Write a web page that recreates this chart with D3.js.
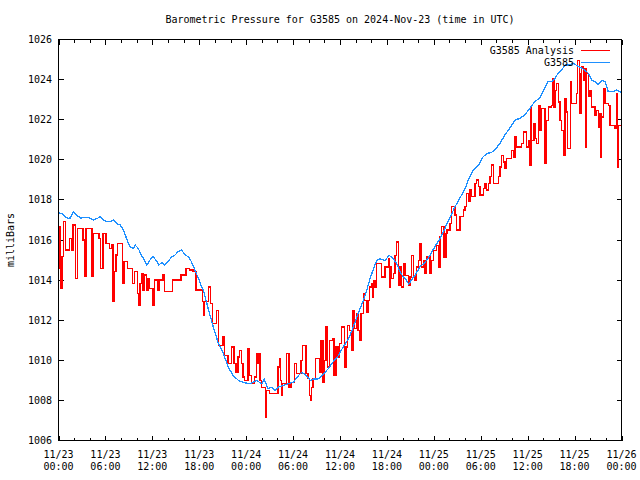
<!DOCTYPE html>
<html>
<head>
<meta charset="utf-8">
<script src="https://cdn.jsdelivr.net/npm/d3@7"></script>
<style>
  html, body { margin: 0; padding: 0; background: #fff; }
  svg { display: block; }
  text { font-family: "DejaVu Sans Mono", "Liberation Mono", monospace; font-size: 10px; fill: #000; }
</style>
</head>
<body>
<svg id="chart" width="640" height="480"></svg>
<script>
// ---- data (hours after 2024-11-23 00:00 UTC, millibars) ----
const titleText = "Barometric Pressure for G3585 on 2024-Nov-23 (time in UTC)";
const yLabel = "milliBars";
const seriesNames = ["G3585 Analysis", "G3585"];

const blueHours = [0,0.5,0.8,1.2,1.5,1.9,2.3,2.8,3.5,4.0,4.5,5.0,5.3,5.7,6.2,6.6,7.1,7.4,7.9,8.3,8.7,9.1,9.6,9.8,10.2,10.6,11.1,11.3,11.7,12.1,12.6,12.8,13.2,13.6,14.0,14.5,14.9,15.3,15.75,16.2,16.6,17.0,17.45,17.9,18.3,18.6,19.2,19.8,20.4,21.1,21.7,22.35,23.0,23.6,24.5,25.3,26.0,26.3,26.8,27.2,27.7,28.1,28.75,29.4,30.0,30.7,31.1,31.7,32.2,32.6,33.2,33.9,34.5,35.1,35.8,36.4,37.1,37.7,38.3,39.0,39.5,39.9,40.3,40.7,41.1,41.75,42.3,42.8,43.25,43.7,44.1,44.5,44.8,45.1,45.6,46.2,46.9,47.5,48.1,48.8,49.4,50.1,50.7,51.3,52.0,52.4,53.0,53.7,54.3,54.8,55.3,55.8,56.5,57.1,57.7,58.4,59.0,59.6,60.3,60.9,61.5,62.2,62.6,63.1,63.5,63.9,64.35,64.8,65.4,65.8,66.5,66.9,67.3,67.75,68.2,68.6,69.0,69.5,69.9,70.3,70.9,71.4,72.0];
const blueValues = [1017.37,1017.3,1017.17,1017.08,1017.1,1017.42,1017.25,1017.1,1017.12,1017.1,1017.0,1017.08,1017.17,1017.0,1016.92,1016.92,1017.0,1016.83,1016.75,1016.5,1016.08,1015.67,1015.58,1015.75,1015.58,1015.25,1014.92,1014.75,1015.0,1015.17,1014.92,1014.75,1014.87,1014.75,1014.92,1015.17,1015.25,1015.42,1015.5,1015.25,1015.17,1014.92,1014.5,1014.08,1013.67,1013.4,1012.49,1011.66,1010.9,1010.33,1009.66,1009.24,1009.0,1008.9,1008.83,1009.0,1008.83,1009.05,1008.58,1008.66,1008.5,1008.66,1008.75,1008.83,1008.9,1009.24,1009.4,1009.24,1009.0,1009.07,1009.07,1009.33,1009.58,1009.91,1010.24,1010.66,1011.08,1011.66,1012.32,1012.99,1013.6,1014.15,1014.57,1014.98,1015.07,1014.98,1015.23,1015.07,1014.82,1014.4,1014.15,1013.99,1013.79,1013.99,1014.24,1014.65,1014.9,1015.23,1015.65,1016.07,1016.57,1017.15,1017.65,1018.07,1018.57,1018.98,1019.48,1019.73,1020.15,1020.32,1020.35,1020.48,1020.85,1021.24,1021.57,1021.98,1022.07,1022.23,1022.57,1022.9,1023.07,1023.57,1023.9,1023.9,1024.07,1024.32,1024.48,1024.73,1024.73,1024.82,1024.65,1024.57,1024.48,1024.32,1023.98,1023.9,1023.73,1023.98,1023.9,1023.4,1023.4,1023.48,1023.35];

const redHours = [0.0,0.19,0.28,0.45,0.66,0.92,1.43,1.68,1.85,2.2,2.45,3.13,3.35,3.52,4.28,4.45,5.18,5.35,5.69,6.07,6.5,6.75,6.97,7.1,7.35,7.56,8.2,8.37,8.8,9.48,9.7,10.12,10.29,10.42,10.6,10.8,11.0,11.23,11.44,11.66,12.08,12.25,12.72,12.94,13.36,13.58,14.6,15.67,16.3,16.77,17.2,17.58,18.43,18.56,18.69,19.16,19.4,19.71,20.23,20.44,21.04,21.25,21.68,22.1,22.44,22.7,22.95,23.17,23.38,23.59,23.8,24.23,24.4,24.66,25.08,25.3,25.5,25.7,25.77,25.94,26.5,26.58,26.96,28.07,28.24,28.4,28.5,28.66,29.13,29.48,29.73,30.2,30.41,31.0,31.22,31.65,31.9,32.12,32.25,32.33,32.55,32.9,33.36,33.57,33.82,34.0,34.2,34.42,34.63,35.06,35.23,35.48,35.74,35.96,36.17,36.55,36.77,36.98,37.24,37.45,37.66,37.87,38.09,38.3,38.51,38.68,39.03,39.15,39.37,39.58,39.8,40.0,40.18,40.26,40.47,40.69,41.33,41.75,42.18,42.3,42.47,42.6,42.82,43.03,43.24,43.46,43.67,43.88,44.1,44.31,44.73,44.95,45.16,45.37,45.59,45.8,46.01,46.23,46.44,46.65,46.87,47.08,47.51,47.72,47.93,48.36,48.57,48.78,49.0,49.3,49.55,49.7,50.06,50.27,50.7,50.9,51.34,51.76,51.98,52.19,52.4,52.62,52.83,53.26,53.47,53.68,53.9,54.32,54.54,54.75,54.96,55.18,55.39,55.6,56.24,56.45,56.67,56.88,57.1,57.31,57.95,58.16,58.37,58.59,59.23,59.44,59.87,60.08,60.29,60.42,60.5,60.8,60.93,61.15,61.36,61.57,61.78,62.21,62.43,62.64,63.07,63.2,63.37,63.49,63.71,63.92,64.13,64.35,64.56,64.77,64.98,65.11,65.5,65.62,66.26,66.35,66.6,66.69,66.9,67.11,67.33,67.45,67.54,67.75,67.96,68.18,68.6,68.82,69.03,69.24,69.37,69.45,69.67,69.88,70.3,70.52,71.16,71.37,71.46,71.58,72.0];
const redValues = [1016.67,1014.58,1013.58,1015.17,1016.92,1015.5,1016.08,1015.5,1016.75,1014.08,1016.58,1016.0,1014.17,1016.58,1014.17,1016.33,1016.08,1014.58,1016.33,1015.83,1015.58,1015.75,1012.92,1014.42,1015.25,1015.83,1013.83,1014.92,1014.58,1013.83,1014.42,1013.33,1012.75,1013.83,1014.33,1013.5,1014.25,1013.5,1014.08,1013.58,1012.75,1014.0,1013.5,1014.0,1014.25,1013.42,1014.0,1014.25,1014.58,1014.5,1014.42,1013.5,1012.95,1012.25,1012.92,1013.66,1012.85,1011.83,1012.49,1010.74,1011.16,1010.24,1009.83,1010.66,1009.83,1009.41,1010.16,1010.49,1009.83,1009.16,1009.0,1010.58,1009.24,1008.83,1009.16,1010.33,1009.83,1010.33,1009.0,1008.66,1007.17,1008.5,1008.33,1009.66,1010.08,1009.0,1008.25,1008.83,1010.33,1008.66,1008.91,1009.83,1009.33,1010.0,1010.74,1009.33,1009.08,1008.25,1008.0,1008.66,1009.08,1010.08,1009.41,1010.99,1008.91,1010.0,1011.66,1009.66,1010.99,1011.07,1009.24,1010.66,1010.16,1010.83,1011.66,1009.66,1010.66,1011.74,1011.49,1010.49,1012.49,1011.57,1012.32,1011.49,1010.99,1012.32,1013.32,1012.99,1012.41,1012.99,1013.66,1013.82,1013.16,1013.99,1013.66,1014.82,1014.15,1014.65,1015.07,1013.66,1014.65,1014.07,1014.32,1015.23,1015.9,1013.74,1014.65,1013.66,1014.82,1014.24,1013.74,1014.15,1015.23,1014.24,1013.99,1014.65,1014.99,1015.82,1014.65,1014.99,1014.32,1015.15,1014.32,1014.99,1015.49,1015.74,1014.65,1016.16,1016.66,1015.15,1016.33,1016.5,1016.83,1017.66,1017.24,1016.5,1017.16,1017.49,1017.66,1018.32,1017.91,1018.49,1018.16,1018.83,1018.99,1018.66,1018.24,1018.57,1018.83,1018.49,1018.83,1019.16,1019.74,1018.83,1019.16,1019.64,1020.22,1019.89,1019.56,1020.06,1020.47,1020.14,1021.14,1020.64,1020.81,1021.39,1020.64,1020.97,1019.72,1022.63,1020.97,1021.8,1021.06,1020.81,1022.72,1021.47,1022.55,1019.81,1021.97,1022.63,1022.72,1024.05,1022.63,1023.47,1023.8,1022.89,1021.97,1021.47,1020.22,1023.05,1022.38,1020.55,1023.88,1022.8,1023.3,1024.96,1024.3,1022.3,1024.63,1023.97,1024.55,1020.64,1024.3,1023.14,1023.47,1022.63,1022.22,1022.47,1021.64,1022.3,1020.14,1022.13,1023.55,1022.8,1022.72,1021.72,1021.55,1023.3,1019.64,1021.72,1021.64];

const yTicks = [1006,1008,1010,1012,1014,1016,1018,1020,1022,1024,1026];
const xTickHours = [0,6,12,18,24,30,36,42,48,54,60,66,72];
const xMinorHours = d3.range(0, 73, 2);

// ---- layout ----
const L = 58.5, R = 621.5, T = 39.5, B = 440.5;
const start = Date.UTC(2024, 10, 23, 0, 0);
const toDate = h => new Date(start + h * 3600e3);

const x = d3.scaleUtc().domain([toDate(0), toDate(72)]).range([L, R]);
const y = d3.scaleLinear().domain([1006, 1026]).range([B, T]);

const svg = d3.select("#chart");

// title
svg.append("text").attr("x", (L + R) / 2).attr("y", 23)
  .attr("text-anchor", "middle").text(titleText);

// y label
svg.append("text").attr("transform", "translate(14,240) rotate(-90)")
  .attr("text-anchor", "middle").text(yLabel);

// clip
svg.append("clipPath").attr("id", "clip").append("rect")
  .attr("x", L).attr("y", T).attr("width", R - L).attr("height", B - T);

// ticks (inward, mirrored)
const tickG = svg.append("g").attr("stroke", "#000").attr("stroke-width", 1)
  .attr("shape-rendering", "crispEdges");
xMinorHours.forEach(h => {
  const major = h % 6 === 0;
  const len = major ? 5 : 3;
  const xp = Math.round(x(toDate(h))) + 0.5;
  tickG.append("line").attr("x1", xp).attr("x2", xp).attr("y1", B).attr("y2", B - len);
  tickG.append("line").attr("x1", xp).attr("x2", xp).attr("y1", T).attr("y2", T + len);
});
yTicks.forEach(v => {
  const yp = Math.round(y(v) - 0.5) + 0.5;
  tickG.append("line").attr("x1", L).attr("x2", L + 5).attr("y1", yp).attr("y2", yp);
  tickG.append("line").attr("x1", R).attr("x2", R - 5).attr("y1", yp).attr("y2", yp);
});

// y tick labels
svg.append("g").selectAll("text").data(yTicks).join("text")
  .attr("x", 52).attr("y", d => y(d)).attr("dy", "0.35em")
  .attr("text-anchor", "end").text(d => d);

// x tick labels
const fmtDate = d3.utcFormat("%m/%d");
const fmtTime = d3.utcFormat("%H:%M");
const xl = svg.append("g").selectAll("text").data(xTickHours).join("text")
  .attr("text-anchor", "middle");
xl.append("tspan").attr("x", d => x(toDate(d))).attr("y", B + 17).text(d => fmtDate(toDate(d)));
xl.append("tspan").attr("x", d => x(toDate(d))).attr("y", B + 29).text(d => fmtTime(toDate(d)));

// series
const redData = redHours.map((h, i) => [toDate(h), redValues[i]]);
const blueData = blueHours.map((h, i) => [toDate(h), blueValues[i]]);

const plot = svg.append("g").attr("clip-path", "url(#clip)");
plot.append("path").datum(redData)
  .attr("fill", "none").attr("stroke", "#ff0000").attr("stroke-width", 1.3)
  .attr("shape-rendering", "crispEdges")
  .attr("d", d3.line().x(d => x(d[0])).y(d => y(d[1])).curve(d3.curveStepAfter));
plot.append("path").datum(blueData)
  .attr("fill", "none").attr("stroke", "#1e90ff").attr("stroke-width", 1.3)
  .attr("shape-rendering", "crispEdges")
  .attr("d", d3.line().x(d => x(d[0])).y(d => y(d[1])));

// border
svg.append("rect").attr("x", L).attr("y", T).attr("width", R - L).attr("height", B - T)
  .attr("fill", "none").attr("stroke", "#000").attr("stroke-width", 1)
  .attr("shape-rendering", "crispEdges");

// legend
const legColors = ["#ff0000", "#1e90ff"];
const legY = [50, 62];
seriesNames.forEach((name, i) => {
  svg.append("text").attr("x", 574).attr("y", legY[i]).attr("dy", "0.35em")
    .attr("text-anchor", "end").text(name);
  svg.append("line").attr("x1", 581).attr("x2", 610).attr("y1", legY[i] + 0.5).attr("y2", legY[i] + 0.5)
    .attr("stroke", legColors[i]).attr("stroke-width", 1.3).attr("shape-rendering", "crispEdges");
});
</script>
</body>
</html>
